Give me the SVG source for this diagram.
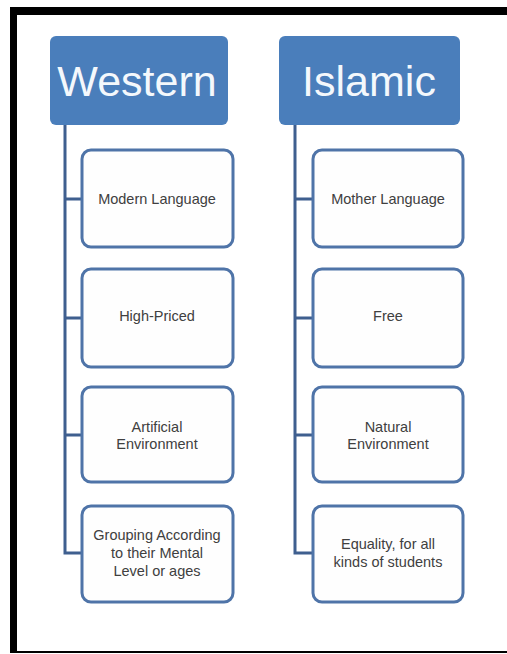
<svg xmlns="http://www.w3.org/2000/svg" width="507" height="654" viewBox="0 0 507 654">
<style>
.hdr{fill:#4a7ebb;}
.hdrt{font-family:"Liberation Sans",Arial,sans-serif;font-size:43px;fill:#f4f8fc;text-anchor:middle;}
.box{fill:#fefefe;stroke:#4f74a8;stroke-width:3;}
.bt{font-family:"Liberation Sans",Arial,sans-serif;font-size:14.5px;fill:#404040;text-anchor:middle;}
.ln{stroke:#3f5f8f;stroke-width:3;fill:none;}
</style>
<rect x="0" y="0" width="507" height="654" fill="#ffffff"/>
<g id="frame">
<rect x="10" y="7" width="497" height="8" fill="#000"/>
<rect x="10" y="7" width="7" height="646" fill="#000"/>
<rect x="10" y="651" width="497" height="2" fill="#000"/>
</g>
<g id="connectors">
<path class="ln" d="M65 125 V553 H82 M65 199 H82 M65 318 H82 M65 435 H82"/>
<path class="ln" d="M295 125 V553 H313 M295 199 H313 M295 318 H313 M295 435 H313"/>
</g>
<g id="western">
<rect class="hdr" x="50" y="36" width="178" height="89" rx="6"/>
<text class="hdrt" x="137" y="96">Western</text>
</g>
<g id="islamic">
<rect class="hdr" x="279" y="36" width="181" height="89" rx="6"/>
<text class="hdrt" x="369" y="96">Islamic</text>
</g>
<g id="w1">
<rect class="box" x="82" y="150" width="151" height="97" rx="9"/>
<text class="bt" x="157" y="204">Modern Language</text>
</g>
<g id="w2">
<rect class="box" x="82" y="269" width="151" height="98" rx="9"/>
<text class="bt" x="157" y="321">High-Priced</text>
</g>
<g id="w3">
<rect class="box" x="82" y="387" width="151" height="95" rx="9"/>
<text class="bt" x="157" y="432">Artificial</text>
<text class="bt" x="157" y="449">Environment</text>
</g>
<g id="w4">
<rect class="box" x="82" y="506" width="151" height="96" rx="9"/>
<text class="bt" x="157" y="540">Grouping According</text>
<text class="bt" x="157" y="558">to their Mental</text>
<text class="bt" x="157" y="576">Level or ages</text>
</g>
<g id="i1">
<rect class="box" x="313" y="150" width="150" height="97" rx="9"/>
<text class="bt" x="388" y="204">Mother Language</text>
</g>
<g id="i2">
<rect class="box" x="313" y="269" width="150" height="98" rx="9"/>
<text class="bt" x="388" y="321">Free</text>
</g>
<g id="i3">
<rect class="box" x="313" y="387" width="150" height="95" rx="9"/>
<text class="bt" x="388" y="432">Natural</text>
<text class="bt" x="388" y="449">Environment</text>
</g>
<g id="i4">
<rect class="box" x="313" y="506" width="150" height="96" rx="9"/>
<text class="bt" x="388" y="549">Equality, for all</text>
<text class="bt" x="388" y="567">kinds of students</text>
</g>
</svg>
